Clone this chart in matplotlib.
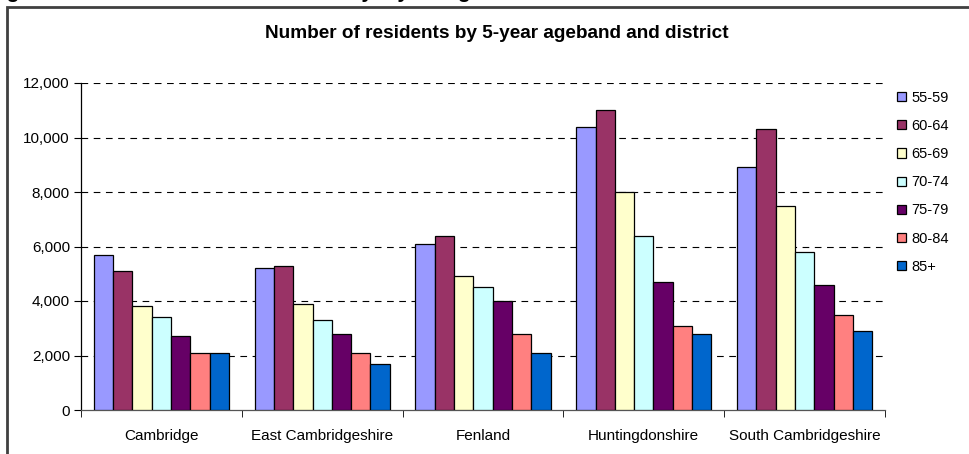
import numpy as np
import matplotlib
matplotlib.use('Agg')
import matplotlib.pyplot as plt
from matplotlib.patches import Rectangle
from matplotlib.ticker import FuncFormatter

plt.rcParams['font.family'] = ['Liberation Sans', 'DejaVu Sans']

# districts and age bands
districts = ['Cambridge', 'East Cambridgeshire', 'Fenland', 'Huntingdonshire', 'South Cambridgeshire']
agebands = ['55-59', '60-64', '65-69', '70-74', '75-79', '80-84', '85+']

# residents per ageband, one list per band (district order as above)
age_55_59 = [5700, 5200, 6100, 10400, 8900]
age_60_64 = [5100, 5300, 6400, 11000, 10300]
age_65_69 = [3800, 3900, 4900, 8000, 7500]
age_70_74 = [3400, 3300, 4500, 6400, 5800]
age_75_79 = [2700, 2800, 4000, 4700, 4600]
age_80_84 = [2100, 2100, 2800, 3100, 3500]
age_85_up = [2100, 1700, 2100, 2800, 2900]

series = [age_55_59, age_60_64, age_65_69, age_70_74, age_75_79, age_80_84, age_85_up]
colors = ['#9999FF', '#993366', '#FFFFCC', '#CCFFFF', '#660066', '#FF8080', '#0066CC']

fig = plt.figure(figsize=(9.69, 4.54), dpi=100)
ax = fig.add_axes([81/969, 1 - 410/454, (885-81)/969, (410-83)/454])

# chart area border (cropped at right and bottom)
fig.patches.append(Rectangle((7/969, -0.2), 1.2, 1 - 7/454 + 0.2, transform=fig.transFigure,
                             fill=False, edgecolor='#404040', linewidth=2, zorder=0))

# cropped heading above the chart box, only descenders show
fig.text(-0.012, 1.0 + 2.5/454, 'Figure 3: Number of older residents by 5-year ageband',
         fontsize=15, fontweight='bold', va='baseline', ha='left')

x = np.arange(len(districts))
nb = len(series)
bw = 0.84 / nb
for i, vals in enumerate(series):
    ax.bar(x - 0.42 + bw * (i + 0.5), vals, width=bw, color=colors[i], edgecolor='black',
           linewidth=0.9, label=agebands[i], zorder=3)

ax.set_xlim(-0.5, len(districts) - 0.5)
ax.set_ylim(0, 12000)
ax.set_yticks(range(0, 12001, 2000))
ax.yaxis.set_major_formatter(FuncFormatter(lambda v, p: f'{int(v):,}'))
ax.set_xticks(x)
ax.set_xticklabels(districts, fontsize=11)
ax.set_xticks(np.arange(-0.5, len(districts)), minor=True)
ax.tick_params(axis='x', which='major', length=0, pad=14)
ax.tick_params(axis='x', which='minor', length=5, direction='out', color='black')
ax.tick_params(axis='y', labelsize=11, length=5, direction='out', pad=3)

for v in range(2000, 12001, 2000):
    ax.axhline(v, color='black', linestyle=(0, (6, 5)), linewidth=0.8, zorder=1)

for s in ['top', 'right']:
    ax.spines[s].set_visible(False)
ax.spines['left'].set_linewidth(0.9)
ax.spines['bottom'].set_linewidth(0.9)
ax.spines['bottom'].set_color('#555555')

fig.text(497/969, 1 - 33/454, 'Number of residents by 5-year ageband and district',
         fontsize=13.7, fontweight='bold', ha='center', va='center')

leg = ax.legend(loc='upper left', bbox_to_anchor=(891/969, 1 - 85/454), bbox_transform=fig.transFigure,
                frameon=False, fontsize=10.5, handlelength=0.6, handleheight=0.6,
                handletextpad=0.4, labelspacing=0.97, borderaxespad=0)

fig.savefig('out.png', dpi=100)
